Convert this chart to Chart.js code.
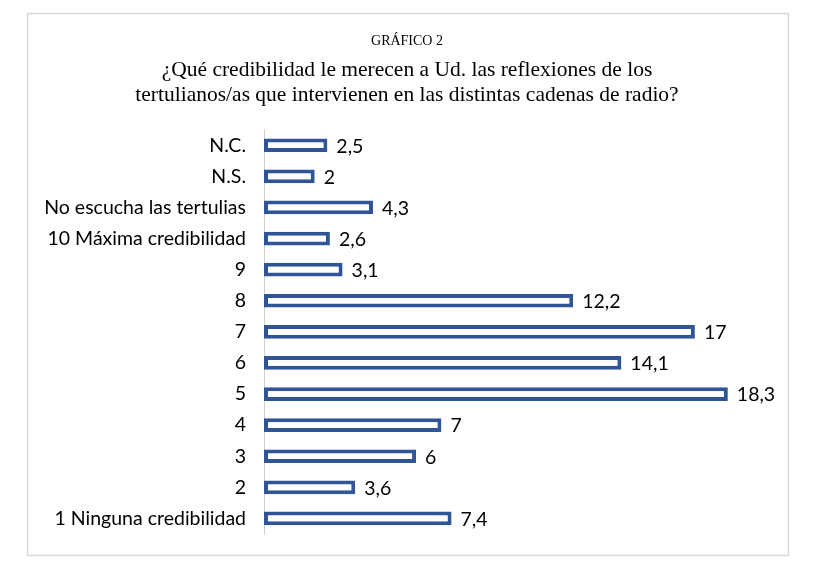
<!DOCTYPE html>
<html>
<head>
<meta charset="utf-8">
<script src="https://cdn.jsdelivr.net/npm/chart.js@4"></script>
<style>
html,body{margin:0;padding:0;background:#fff;}
#wrap{position:absolute;left:0;top:0;width:814px;height:569px;}
</style>
</head>
<body>
<div id="wrap"><canvas id="c" width="814" height="569"></canvas></div>
<script>
const categories = ['N.C.', 'N.S.', 'No escucha las tertulias', '10 Máxima credibilidad', '9', '8', '7', '6', '5', '4', '3', '2', '1 Ninguna credibilidad'];
const values = [2.5, 2, 4.3, 2.6, 3.1, 12.2, 17, 14.1, 18.3, 7, 6, 3.6, 7.4];
const titleText = 'GRÁFICO 2';
const subtitleLines = ['¿Qué credibilidad le merecen a Ud. las reflexiones de los', 'tertulianos/as que intervienen en las distintas cadenas de radio?'];

const frame = {
  id: 'frame',
  beforeDraw(chart) {
    const ctx = chart.ctx;
    ctx.save();
    ctx.fillStyle = '#fff';
    ctx.fillRect(0, 0, chart.width, chart.height);
    ctx.strokeStyle = '#d9d9d9';
    ctx.lineWidth = 1.5;
    ctx.strokeRect(27.5, 13.5, 761, 542);
    ctx.restore();
  }
};

const valueLabels = {
  id: 'valueLabels',
  afterDatasetsDraw(chart) {
    const ctx = chart.ctx;
    const meta = chart.getDatasetMeta(0);
    const xs = chart.scales.x;
    ctx.save();
    ctx.font = '19.5px Lato, "Open Sans", sans-serif';
    ctx.fillStyle = '#000';
    ctx.textAlign = 'left';
    ctx.textBaseline = 'middle';
    meta.data.forEach((bar, i) => {
      const v = values[i];
      const x = xs.getPixelForValue(v) + 9;
      ctx.fillText(String(v).replace('.', ','), x, bar.y + 1);
    });
    ctx.restore();
  }
};

new Chart(document.getElementById('c'), {
  type: 'bar',
  data: {
    labels: categories,
    datasets: [{
      data: values,
      backgroundColor: '#ffffff',
      borderColor: '#2F5597',
      borderWidth: 4,
      borderSkipped: false,
      categoryPercentage: 1,
      barPercentage: 0.44
    }]
  },
  options: {
    indexAxis: 'y',
    responsive: false,
    animation: false,
    devicePixelRatio: 1,
    layout: { padding: { left: 0, right: 0, top: 0, bottom: 35 } },
    plugins: {
      legend: { display: false },
      tooltip: { enabled: false },
      title: {
        display: true,
        text: titleText,
        color: '#000',
        font: { family: '"Liberation Serif", "Times New Roman", serif', size: 14, weight: 'normal', lineHeight: 1.2 },
        padding: { top: 33, bottom: 8 }
      },
      subtitle: {
        display: true,
        text: subtitleLines,
        color: '#000',
        font: { family: '"Liberation Serif", "Times New Roman", serif', size: 21.5, lineHeight: 1.16 },
        padding: { top: 0, bottom: 22 }
      }
    },
    scales: {
      x: {
        display: false,
        min: 0,
        max: 21.7
      },
      y: {
        afterFit(scale) { scale.width = 264; },
        grid: { display: false, drawTicks: false },
        border: { display: true, color: '#d0d0d0', width: 1 },
        ticks: {
          color: '#000',
          padding: 18,
          font: { family: 'Lato, "Open Sans", sans-serif', size: 19.5 }
        }
      }
    }
  },
  plugins: [frame, valueLabels]
});
</script>
</body>
</html>
